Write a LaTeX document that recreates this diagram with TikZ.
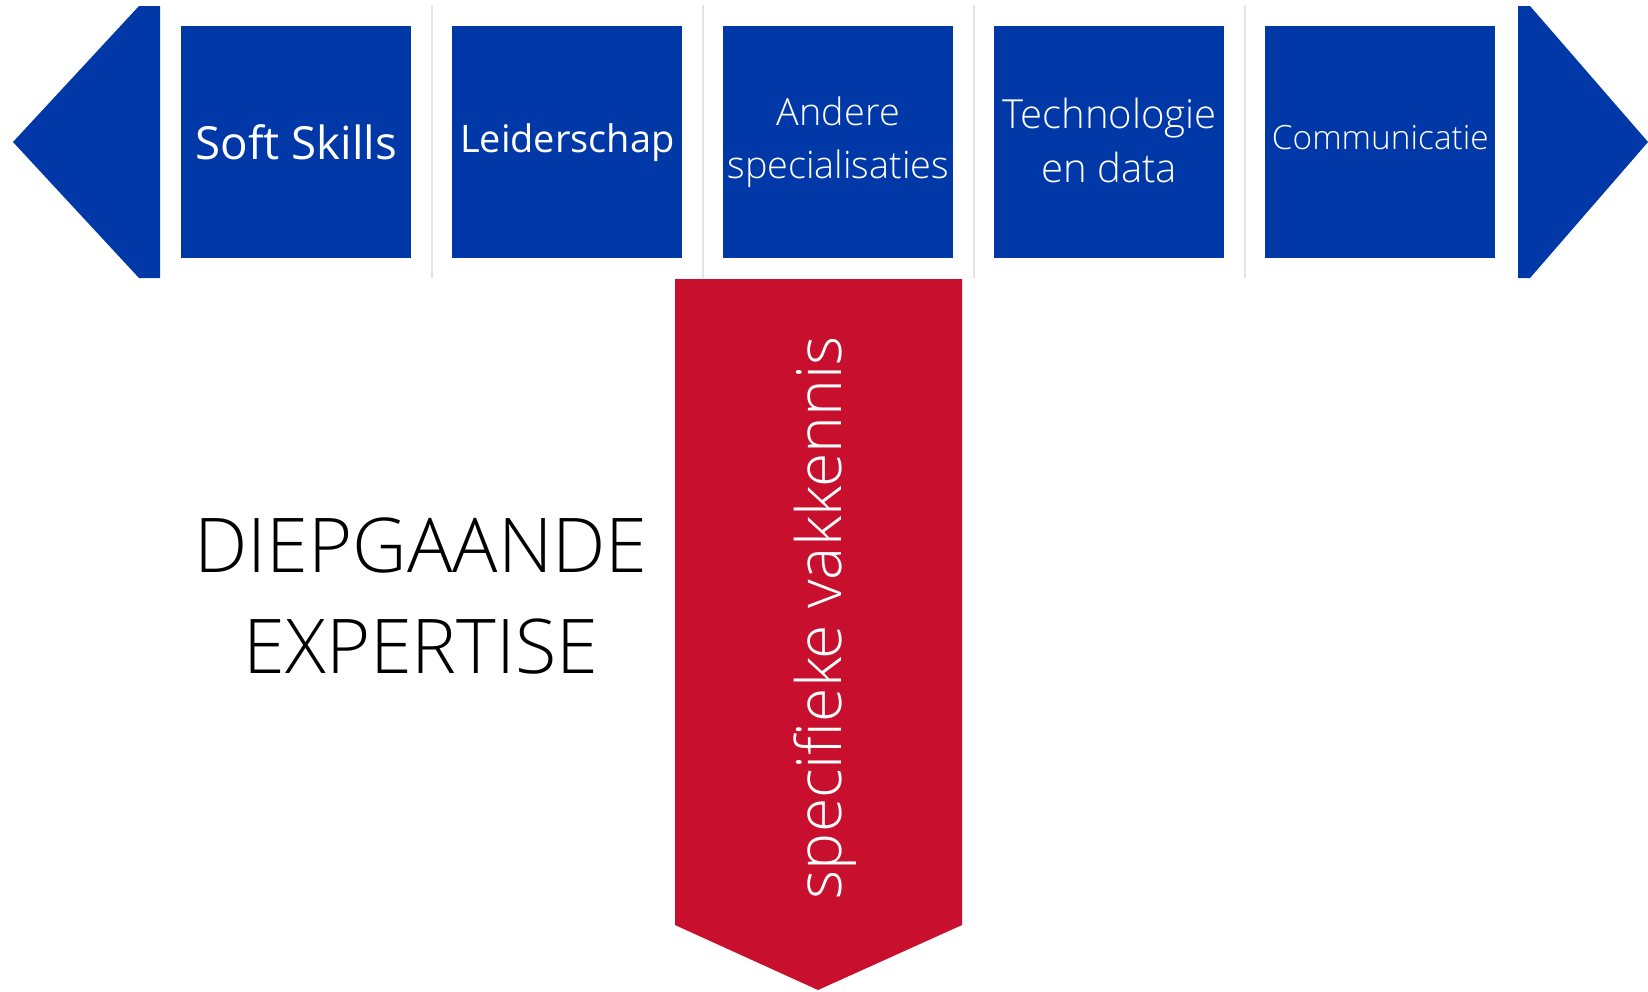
\documentclass[tikz,border=0pt]{standalone}
\usepackage{fontspec}
\setmainfont{Open Sans}
\newfontfamily\oslight{Open Sans Light}
\definecolor{kblue}{HTML}{0038A8}
\definecolor{kred}{HTML}{C8102E}
\definecolor{sepgray}{HTML}{E4E4E4}
\begin{document}
\begin{tikzpicture}[x=0.02cm,y=-0.02cm,
  box/.style={fill=kblue, draw=none, minimum width=4.6cm, minimum height=4.64cm,
    inner sep=0pt, text=white, align=center, anchor=north west},
  boxtext/.style={text=white, align=center, inner sep=0pt},
  sepline/.style={draw=sepgray, line width=0.6pt},
  arrowshape/.style={fill=kblue, draw=none}]
\useasboundingbox (0,0) rectangle (1648,991);
\fill[white] (0,0) rectangle (1648,991);
% separators
\foreach \x in {432,703,974,1245}{
  \draw[sepline] (\x,5) -- (\x,278);
}
% end arrows
\fill[arrowshape] (160,6) -- (139,6) -- (13,142) -- (139,278) -- (160,278) -- cycle;
\fill[arrowshape] (1518,6) -- (1530,6) -- (1648,142) -- (1530,278) -- (1518,278) -- cycle;
% boxes
\node[box, font=\fontsize{26}{30}\selectfont] (b1) at (181,26) {Soft Skills};
\node[box, font=\fontsize{21.6}{26}\selectfont] (b2) at (452,26) {Leiderschap};
\node[box, font=\oslight\fontsize{21.5}{30}\selectfont] (b3) at (723,26) {Andere\\specialisaties};
\node[box] (b4) at (994,26) {};
\node[box] (b5) at (1265,26) {};
\node[boxtext, font=\oslight\fontsize{22.8}{31}\selectfont, yshift=0.04cm] (t4) at (b4.center) {Technologie\\en data};
\node[boxtext, font=\oslight\fontsize{19}{23}\selectfont, yshift=0.1cm] (t5) at (b5.center) {Communicatie};
% red arrow
\fill[kred] (675,279) -- (962,279) -- (962,925) -- (818,990) -- (675,925) -- cycle;
\node[rotate=90, text=white, font=\oslight\fontsize{35.5}{42}\selectfont] (spec) at (825,618) {specifieke vakkennis};
% left text
\node[align=center, font=\oslight\fontsize{43}{57}\selectfont] (diep) at (421,596) {DIEPGAANDE\\EXPERTISE};
\end{tikzpicture}
\end{document}
